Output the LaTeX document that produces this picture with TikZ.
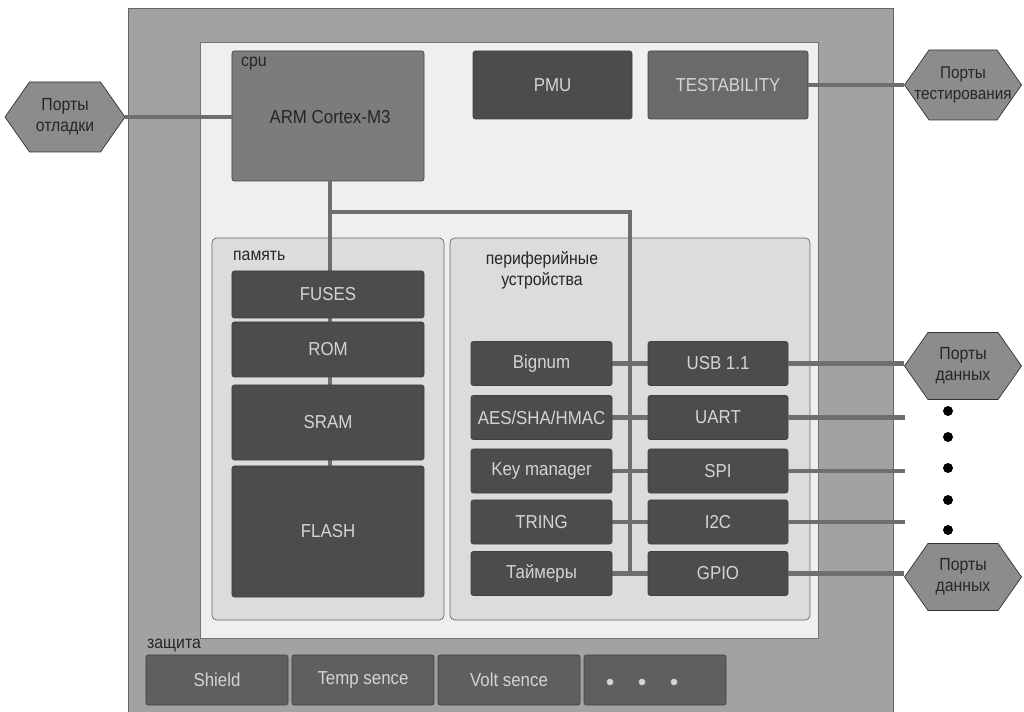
\documentclass[tikz,border=0pt]{standalone}
\usepackage{fontspec}
\setmainfont{Liberation Sans}
\newfontfamily\narrowf[FakeStretch=0.9]{Liberation Sans}
\usetikzlibrary{shapes.symbols}
\definecolor{frame}{HTML}{A2A2A2}
\definecolor{inner}{HTML}{EFEFEF}
\definecolor{cont}{HTML}{DCDCDC}
\definecolor{cpuc}{HTML}{7C7C7C}
\definecolor{darkb}{HTML}{4C4C4C}
\definecolor{midb}{HTML}{6A6A6A}
\definecolor{hexc}{HTML}{8C8C8C}
\definecolor{wire}{HTML}{6E6E6E}
\definecolor{ltext}{HTML}{D4D4D4}
\tikzset{
  blk/.style={rectangle, rounded corners=2pt, draw=black!75, line width=0.6pt, fill=darkb, text=ltext, inner sep=0pt, font=\narrowf\fontsize{16}{18}\selectfont},
  hexport/.style={signal, signal to=west and east, signal pointer angle=110, draw=black!80, line width=0.6pt, fill=hexc, text=black!85, inner sep=0pt, align=center, font=\narrowf\fontsize{15}{18}\selectfont},
  container/.style={rectangle, rounded corners=4pt, draw=black!60, line width=0.6pt, fill=cont, inner sep=0pt},
  lbl/.style={font=\narrowf\fontsize{15}{18}\selectfont, text=black!85},
  wireline/.style={draw=wire, line width=4pt},
  dot/.style={circle, fill=black, inner sep=0pt, minimum size=0.3cm},
}
\begin{document}
\begin{tikzpicture}[x=0.03cm,y=-0.03cm]
\useasboundingbox (0,0) rectangle (1024,712);
% frames
\fill[frame] (128,8) rectangle (893,712);
\draw[black!60, line width=0.5pt] (128,712) -- (128,8) -- (893,8) -- (893,712);
\filldraw[fill=inner, draw=black!55, line width=0.6pt] (200,42) rectangle (818,638);
% containers
\node[container, minimum width=6.96cm, minimum height=11.46cm] (mem) at (328,429) {};
\node[container, minimum width=10.8cm, minimum height=11.46cm] (per) at (630,429) {};
\node[lbl, anchor=west] (memlbl) at (229,256) {память};
\node[lbl, align=center] (perlbl) at (542,270) {периферийные\\устройства};
% top blocks
\node[blk, fill=cpuc, text=black!85, minimum width=5.76cm, minimum height=3.9cm] (cpu) at (328,116) {};
\node[lbl, anchor=west] (cpulbl) at (237,64) {cpu};
\node[blk, draw=none, fill=none, text=black!85] (arm) at (330,117) {ARM Cortex-M3};
\node[blk, minimum width=4.77cm, minimum height=2.04cm] (pmu) at (552.5,85) {PMU};
\node[blk, fill=midb, minimum width=4.8cm, minimum height=2.04cm] (test) at (728,85) {TESTABILITY};
% ports
\node[hexport, minimum width=3.6cm, minimum height=2.1cm] (dbg) at (65,117) {Порты\\отладки};
\node[hexport, minimum width=3.51cm, minimum height=2.1cm] (tst) at (963,85) {};
\node[lbl, align=center, font=\narrowf\fontsize{14.5}{18}\selectfont] (tsttxt) at (tst.center) {Порты\\тестирования};
\node[hexport, minimum width=3.51cm, minimum height=2.01cm] (dat1) at (963,366) {Порты\\данных};
\node[hexport, minimum width=3.51cm, minimum height=2.01cm] (dat2) at (963,577) {Порты\\данных};
% buses
\coordinate (membus) at (330,181);
\coordinate (bj1) at (330,212);
\coordinate (bj2) at (630,212);
\coordinate (bj3) at (630,575);
\draw[wireline] (dbg.east) -- (cpu.west |- dbg.east);
\draw[wireline] (test.east) -- (tst.west);
\draw[wireline] (membus) -- (330,597);
\draw[wireline] (bj1) -- (bj2) -- (bj3);
% memory blocks
\node[blk, minimum width=5.76cm, minimum height=1.41cm] (fuses) at (328,294.5) {FUSES};
\node[blk, minimum width=5.76cm, minimum height=1.65cm] (rom) at (328,349.5) {ROM};
\node[blk, minimum width=5.76cm, minimum height=2.25cm] (sram) at (328,422.5) {SRAM};
\node[blk, minimum width=5.76cm, minimum height=3.93cm] (flash) at (328,531.5) {FLASH};
% peripherals
\foreach \n/\y in {1/363.5,2/417.5,3/471,4/522,5/573.5}{
  \coordinate (l\n) at (541.5,\y);
  \coordinate (r\n) at (718,\y);
}
\draw[wireline] (l1) -- (r1);
\draw[wireline] (l2) -- (r2);
\draw[wireline] (l3) -- (r3);
\draw[wireline] (l4) -- (r4);
\draw[wireline] (l5) -- (r5);
\coordinate (e2) at (905,417.5);
\coordinate (e3) at (905,471);
\coordinate (e4) at (905,522);
\node[blk, minimum width=4.23cm, minimum height=1.32cm] (bignum) at (l1) {Bignum};
\node[blk, minimum width=4.23cm, minimum height=1.32cm] (aes) at (l2) {AES/SHA/HMAC};
\node[blk, minimum width=4.23cm, minimum height=1.32cm] (key) at (l3) {Key manager};
\node[blk, minimum width=4.23cm, minimum height=1.32cm] (tring) at (l4) {TRING};
\node[blk, minimum width=4.23cm, minimum height=1.32cm] (timers) at (l5) {Таймеры};
\node[blk, minimum width=4.2cm, minimum height=1.32cm] (usb) at (r1) {USB 1.1};
\node[blk, minimum width=4.2cm, minimum height=1.32cm] (uart) at (r2) {UART};
\node[blk, minimum width=4.2cm, minimum height=1.32cm] (spi) at (r3) {SPI};
\node[blk, minimum width=4.2cm, minimum height=1.32cm] (i2c) at (r4) {I2C};
\node[blk, minimum width=4.2cm, minimum height=1.32cm] (gpio) at (r5) {GPIO};
\draw[wireline] (usb.east) -- (dat1.west |- usb.east);
\draw[wireline] (uart.east) -- (e2);
\draw[wireline] (spi.east) -- (e3);
\draw[wireline] (i2c.east) -- (e4);
\draw[wireline] (gpio.east) -- (dat2.west |- gpio.east);
\foreach \y [count=\i] in {411,437,468,500,530}{
  \node[dot] (d\i) at (948,\y) {};
}
% protection
\node[lbl, anchor=west] (prot) at (143,646) {защита};
\node[blk, fill=midb!90!black, minimum width=4.26cm, minimum height=1.5cm] (shield) at (217,680) {Shield};
\node[blk, fill=midb!90!black, minimum width=4.26cm, minimum height=1.5cm] (temp) at (363,680) {Temp sence};
\node[blk, fill=midb!90!black, minimum width=4.26cm, minimum height=1.5cm] (volt) at (509,680) {Volt sence};
\node[blk, fill=midb!90!black, minimum width=4.26cm, minimum height=1.5cm] (more) at (655,680) {};
\foreach \x [count=\i] in {610,642,674}{
  \node[circle, fill=ltext, inner sep=0pt, minimum size=0.2cm] (md\i) at (\x,682) {};
}
\end{tikzpicture}
\end{document}
